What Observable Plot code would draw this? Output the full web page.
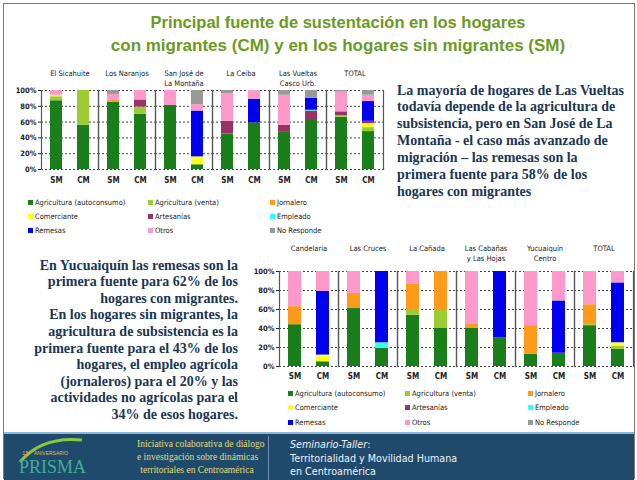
<!DOCTYPE html>
<html><head><meta charset="utf-8">
<script src="https://cdn.jsdelivr.net/npm/d3@7"></script>
<script src="https://cdn.jsdelivr.net/npm/@observablehq/plot@0.6"></script>
<style>
html,body{margin:0;padding:0}
body{width:637px;height:480px;position:relative;background:#fff;overflow:hidden;font-family:"Liberation Sans",Arial,sans-serif}
.abs{position:absolute}
.title{position:absolute;left:0;width:676px;text-align:center;font-weight:bold;font-size:16.5px;color:#6a9a22;white-space:nowrap}
.txt{position:absolute;font-family:"Liberation Serif","Times New Roman",serif;font-weight:bold;font-size:14px;color:#1a3652;white-space:nowrap;line-height:17px}
.leg{position:absolute;font-family:"DejaVu Sans Condensed","Liberation Sans Narrow","Liberation Sans",sans-serif;font-stretch:condensed;font-size:7.5px;color:#222;white-space:nowrap}
.leg span.sw{display:inline-block;width:5px;height:5px;margin-right:2px;vertical-align:middle}
#footer{position:absolute;left:4px;top:432px;width:630px;height:48px;background:#1f4a6c;border-top:2px solid #8fb8d6}
.ft{position:absolute;white-space:nowrap}
</style></head><body>
<div class="abs" style="left:3px;top:3px;width:630px;height:474px;border:1px solid #777"></div>
<div class="title" style="top:13px">Principal fuente de sustentación en los hogares</div>
<div class="title" style="top:36px;font-size:17px">con migrantes (CM) y en los hogares sin migrantes (SM)</div>
<div id="top" class="abs" style="left:0;top:60px"></div>
<div id="bottom" class="abs" style="left:240px;top:230px"></div>
<div id="legTop"></div>
<div id="legBottom"></div>
<div id="rightText"></div>
<div id="leftText"></div>
<div id="footer">
  <svg class="ft" style="left:8px;top:0px" width="90" height="46">
    <path d="M8 28 Q 30 2 70 6" fill="none" stroke="#8cc63f" stroke-width="3"/>
    <text x="10" y="21" font-size="6" fill="#e8a030" font-family="Liberation Sans">15</text>
    <text x="22" y="21" font-size="5" fill="#d8c060" font-family="Liberation Sans">ANIVERSARIO</text>
    <text x="7" y="39" font-size="18" fill="#3fae96" font-family="Liberation Serif">PRISMA</text>
  </svg>
  <div class="ft" style="left:133px;top:4px;width:120px;text-align:center;font-family:'Liberation Serif',serif;font-size:9.5px;line-height:13px;color:#e2dc7a">Iniciativa colaborativa de diálogo<br>e investigación sobre dinámicas<br>territoriales en Centroamérica</div>
  <div class="ft" style="left:264px;top:2px;width:1px;height:44px;background:#6f93b0"></div>
  <div class="ft" style="left:286px;top:4px;font-size:9.6px;line-height:13.5px;color:#eef3f7;font-family:'DejaVu Sans','Liberation Sans',sans-serif"><i>Seminario-Taller</i>:<br>Territorialidad y Movilidad Humana<br>en Centroamérica</div>
</div>
<script>
const categories = ["Agricultura (autoconsumo)", "Agricultura (venta)", "Jornalero", "Comerciante", "Artesanías", "Empleado", "Remesas", "Otros", "No Responde"];
const colors = ["#1a7f1a", "#9ccc33", "#ff9a1a", "#ffff22", "#993366", "#33ffff", "#0000ee", "#ff99cc", "#999999"];
const types = ["SM", "CM"];
const yTicks = [0, 20, 40, 60, 80, 100];

const topGroups = ["El Sicahuite", "Los Naranjos", "San José de\nLa Montaña", "La Ceiba", "Las Vueltas\nCasco Urb.", "TOTAL"];
// values per category, in the order of `categories`
const topSM = [
  [87, 5, 0, 2, 0, 0, 0, 6, 0],
  [85, 0, 3, 0, 0, 0, 0, 7, 5],
  [81, 0, 0, 0, 0, 0, 0, 19, 0],
  [45, 0, 0, 0, 16, 0, 0, 35, 4],
  [47, 0, 0, 0, 9, 0, 0, 38, 6],
  [66, 2, 0, 0, 5, 0, 0, 25, 2]
];
const topCM = [
  [56, 44, 0, 0, 0, 0, 0, 0, 0],
  [70, 9, 0, 0, 9, 0, 0, 12, 0],
  [6, 0, 0, 10, 0, 0, 58, 8, 18],
  [59, 0, 0, 0, 0, 0, 30, 11, 0],
  [62, 0, 0, 0, 12, 1, 15, 0, 10],
  [48, 5, 0, 5, 3, 0, 25, 8, 6]
];

const bottomGroups = ["Candelaria", "Las Cruces", "La Cañada", "Las Cabañas\ny Las Hojas", "Yucuaiquín\nCentro", "TOTAL"];
const bottomSM = [
  [44, 0, 19, 0, 0, 0, 0, 37, 0],
  [61, 0, 16, 0, 0, 0, 0, 23, 0],
  [54, 6, 27, 0, 0, 0, 0, 13, 0],
  [40, 0, 5, 0, 0, 0, 0, 55, 0],
  [13, 0, 30, 0, 0, 0, 0, 57, 0],
  [43, 1, 21, 0, 0, 0, 0, 35, 0]
];
const bottomCM = [
  [5, 0, 0, 7, 0, 0, 67, 21, 0],
  [19, 0, 0, 0, 0, 6, 75, 0, 0],
  [40, 19, 41, 0, 0, 0, 0, 0, 0],
  [30, 0, 0, 0, 0, 0, 70, 0, 0],
  [14, 0, 0, 0, 0, 0, 55, 31, 0],
  [18, 3, 0, 4, 0, 0, 63, 12, 0]
];

const rightLines = ["La mayoría de hogares de Las Vueltas", "todavía depende de la agricultura de", "subsistencia, pero en San José de La", "Montaña - el caso más avanzado de", "migración – las remesas son la", "primera fuente para 58% de los", "hogares con migrantes"];
const leftLines = ["En Yucuaiquín las remesas son la", "primera fuente para 62% de los", "hogares con migrantes.", "En los hogares sin migrantes, la", "agricultura de subsistencia es la", "primera fuente para el 43% de los", "hogares, el empleo agrícola", "(jornaleros) para el 20% y las", "actividades no agrícolas para el", "34% de esos hogares."];

const axisFont = "'DejaVu Sans Condensed','Liberation Sans Narrow','Liberation Sans',sans-serif";

function rowsOf(groups, sm, cm) {
  const rows = [];
  groups.forEach((g, i) => {
    [["SM", sm[i]], ["CM", cm[i]]].forEach(([t, vals]) => {
      vals.forEach((v, k) => rows.push({group: g, type: t, cat: categories[k], value: v}));
    });
  });
  return rows;
}

function chart(groups, sm, cm, o) {
  return Plot.plot({
    width: o.width, height: o.height,
    marginLeft: o.ml, marginRight: o.mr, marginTop: o.mt, marginBottom: o.mb,
    style: {fontFamily: axisFont, fontSize: "7.5px", color: "#222", background: "transparent"},
    fx: {domain: groups, padding: 0, axis: null},
    x: {domain: types, paddingInner: 0.55, paddingOuter: 0.3, axis: null},
    y: {domain: [0, 100], axis: null},
    color: {domain: categories, range: colors},
    marks: [
      Plot.ruleY(yTicks, {stroke: "#444", strokeDasharray: "2,2", strokeWidth: 1}),
      Plot.barY(rowsOf(groups, sm, cm), {fx: "group", x: "type", y: "value", fill: "cat"}),
      Plot.frame({anchor: "left", stroke: "#555", strokeWidth: 1.2}),
      Plot.frame({anchor: "right", stroke: "#555", strokeWidth: 1.2}),
      Plot.axisY(yTicks, {tickFormat: d => d + "%", tickSize: 3, tickPadding: 2, fontWeight: "bold", label: null}),
      Plot.axisX({anchor: "bottom", tickSize: 0, tickPadding: o.tp, fontWeight: "bold", fontSize: "8px", label: null}),
      Plot.text(groups, {fx: d => d, text: d => d, frameAnchor: "top", lineAnchor: "top", dy: o.labelDy, fontSize: "7.5px", lineHeight: 1.25})
    ]
  });
}

document.getElementById("top").appendChild(chart(topGroups, topSM, topCM, {width: 390, height: 130, ml: 40, mr: 6, mt: 30, mb: 21, tp: 8, labelDy: -21}));
document.getElementById("bottom").appendChild(chart(bottomGroups, bottomSM, bottomCM, {width: 397, height: 160, ml: 38, mr: 3, mt: 41, mb: 24, tp: 7, labelDy: -27}));

function legend(id, xs, ys) {
  const el = document.getElementById(id);
  categories.forEach((c, i) => {
    const d = document.createElement("div");
    d.className = "leg";
    d.style.left = xs[i % 3] + "px";
    d.style.top = (ys[Math.floor(i / 3)] - 5) + "px";
    d.innerHTML = `<span class="sw" style="background:${colors[i]}"></span>${c}`;
    el.appendChild(d);
  });
}
legend("legTop", [28, 148, 270], [203, 217, 231]);
legend("legBottom", [288, 405, 528], [394, 408, 423]);

function textBlock(id, lines, x, y0, lh, align) {
  const el = document.getElementById(id);
  lines.forEach((l, i) => {
    const d = document.createElement("div");
    d.className = "txt";
    d.textContent = l;
    d.style.top = (y0 + i * lh - 8.5) + "px";
    if (align === "right") { d.style.right = (637 - x) + "px"; } else { d.style.left = x + "px"; }
    el.appendChild(d);
  });
}
textBlock("rightText", rightLines, 397, 90, 16.9, "left");
textBlock("leftText", leftLines, 238, 265, 16.6, "right");
</script>
</body></html>
